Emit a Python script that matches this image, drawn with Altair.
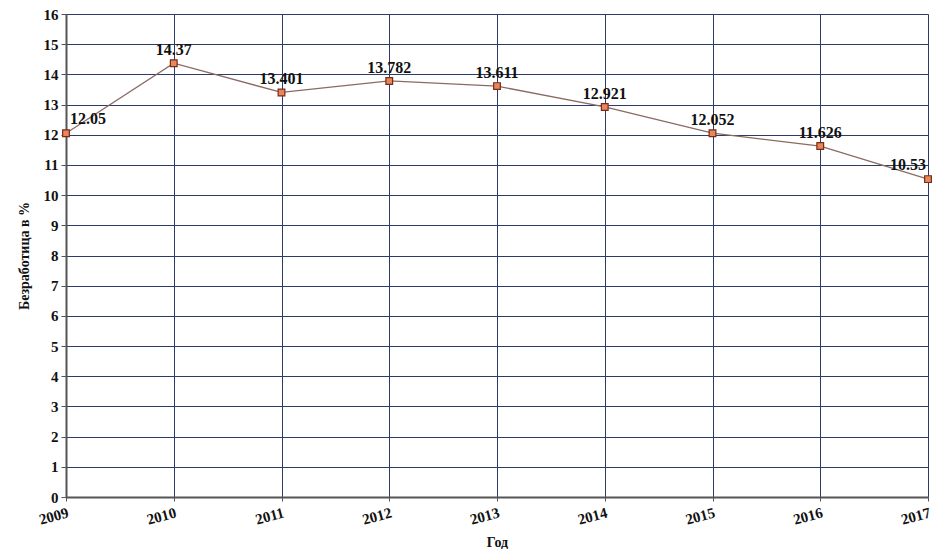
import altair as alt
import pandas as pd

years = [2009, 2010, 2011, 2012, 2013, 2014, 2015, 2016, 2017]
values = [12.05, 14.37, 13.401, 13.782, 13.611, 12.921, 12.052, 11.626, 10.53]
labels = ["12.05", "14.37", "13.401", "13.782", "13.611", "12.921", "12.052", "11.626", "10.53"]

df = pd.DataFrame({"year": years, "value": values, "label": labels})

FONT = "Liberation Serif"

x = alt.X("year:Q", title="Год",
          scale=alt.Scale(domain=[2009, 2017], nice=False, zero=False),
          axis=alt.Axis(values=years, format="d", labelAngle=-15,
                        labelFont=FONT, labelFontSize=15, labelFontWeight="bold",
                        labelColor="#111", labelPadding=4,
                        titleFont=FONT, titleFontSize=14, titleFontWeight="bold",
                        titleColor="#111", titlePadding=8,
                        grid=True, gridColor="#2b3b6b", gridWidth=1,
                        domainColor="#555", domainWidth=2,
                        tickColor="#555", tickSize=4))
y = alt.Y("value:Q", title="Безработица в %",
          scale=alt.Scale(domain=[0, 16], nice=False),
          axis=alt.Axis(values=list(range(0, 17)), labelFont=FONT, labelFontSize=15,
                        labelFontWeight="bold", labelColor="#111", labelPadding=3,
                        titleFont=FONT, titleFontSize=14, titleFontWeight="bold",
                        titleColor="#111", titlePadding=12,
                        grid=True, gridColor="#2b3b6b", gridWidth=1,
                        domainColor="#555", domainWidth=2,
                        tickColor="#555", tickSize=5))

base = alt.Chart(df)

line = base.mark_line(color="#8a6a62", strokeWidth=1.3).encode(x=x, y=y)
pts = base.mark_point(shape="square", size=45, filled=True, fill="#e8875a",
                      stroke="#7a2a1a", strokeWidth=1.2, opacity=1).encode(x=x, y=y)

txt_style = dict(font=FONT, fontSize=16, fontWeight="bold", color="#111", baseline="bottom")
t_mid = base.mark_text(dy=-5, align="center", **txt_style).encode(
    x=x, y=y, text="label:N").transform_filter("datum.year > 2009 && datum.year < 2017")
t_first = base.mark_text(dx=4, dy=-6, align="left", **txt_style).encode(
    x=x, y=y, text="label:N").transform_filter("datum.year == 2009")
t_last = base.mark_text(dx=-2, dy=-6, align="right", **txt_style).encode(
    x=x, y=y, text="label:N").transform_filter("datum.year == 2017")

chart = alt.layer(line, pts, t_mid, t_first, t_last).properties(
    width=862, height=483,
    autosize=alt.AutoSizeParams(type="none"),
    padding={"left": 58, "top": 6, "right": 4, "bottom": 52},
).configure_view(stroke=None).configure(background="white")

chart.save("out.html", embed_options={"renderer": "svg", "actions": False})
